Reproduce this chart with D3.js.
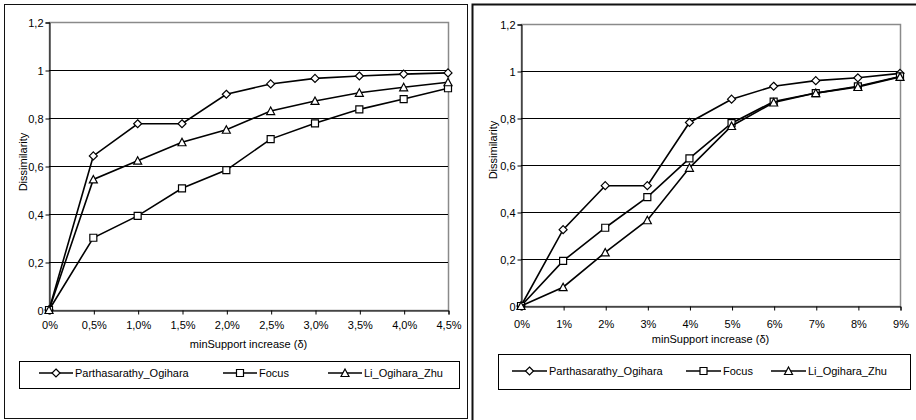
<!DOCTYPE html>
<html>
<head>
<meta charset="utf-8">
<script src="https://cdn.jsdelivr.net/npm/d3@7"></script>
<style>
  body { margin: 0; background: #fff; }
  svg { display: block; font-family: "Liberation Sans", Arial, sans-serif; font-size: 11px; }
</style>
</head>
<body>
<svg id="chart" width="916" height="420"></svg>
<script>
// data
const seriesNames = ["Parthasarathy_Ogihara", "Focus", "Li_Ogihara_Zhu"];
const markerTypes = ["diamond", "square", "triangle"];

const leftCategories = ["0%", "0,5%", "1,0%", "1,5%", "2,0%", "2,5%", "3,0%", "3,5%", "4,0%", "4,5%"];
const leftParthasarathy = [0, 0.642, 0.776, 0.776, 0.899, 0.942, 0.965, 0.975, 0.983, 0.988];
const leftFocus = [0, 0.301, 0.392, 0.507, 0.583, 0.712, 0.778, 0.836, 0.879, 0.924];
const leftLi = [0, 0.544, 0.622, 0.699, 0.751, 0.829, 0.871, 0.905, 0.928, 0.949];

const rightCategories = ["0%", "1%", "2%", "3%", "4%", "5%", "6%", "7%", "8%", "9%"];
const rightParthasarathy = [0, 0.325, 0.512, 0.512, 0.781, 0.880, 0.935, 0.959, 0.971, 0.990];
const rightFocus = [0, 0.192, 0.333, 0.463, 0.628, 0.778, 0.870, 0.906, 0.935, 0.977];
const rightLi = [0, 0.080, 0.228, 0.365, 0.588, 0.766, 0.866, 0.906, 0.932, 0.975];

const yTicks = [0, 0.2, 0.4, 0.6, 0.8, 1, 1.2];
const yTickLabels = ["0", "0,2", "0,4", "0,6", "0,8", "1", "1,2"];
const yTitle = "Dissimilarity";
const xTitle = "minSupport  increase (\u03b4)";

const svg = d3.select("#chart");

function markerPath(type) {
  if (type === "diamond") return "M0,-4L4,0L0,4L-4,0Z";
  if (type === "square") return "M-3.5,-3.5H3.5V3.5H-3.5Z";
  return "M0,-4L4,3.5H-4Z";
}

function drawPanel(cfg) {
  const g = svg.append("g");

  // outer frame
  g.append("rect")
    .attr("x", cfg.frame[0]).attr("y", cfg.frame[1])
    .attr("width", cfg.frame[2]).attr("height", cfg.frame[3])
    .attr("fill", "none").attr("stroke", "#111").attr("stroke-width", cfg.frameWidth || 1);

  const x = d3.scalePoint()
    .domain(cfg.categories)
    .range([cfg.plot.left, cfg.plot.right])
    .padding(0);

  const y = d3.scaleLinear()
    .domain([0, 1.2])
    .range([cfg.plot.bottom, cfg.plot.top]);

  // plot area border
  g.append("rect")
    .attr("x", cfg.plot.left + 0.5).attr("y", y(1.2) + 0.5)
    .attr("width", cfg.plot.right - cfg.plot.left)
    .attr("height", cfg.plot.bottom - cfg.plot.top)
    .attr("fill", "none").attr("stroke", "#8a8a8a").attr("stroke-width", 1.5);

  // gridlines
  g.append("g")
    .selectAll("line")
    .data(yTicks.filter(d => d > 0 && d < 1.2))
    .enter().append("line")
    .attr("x1", cfg.plot.left).attr("x2", cfg.plot.right)
    .attr("y1", d => Math.round(y(d)) + 0.5).attr("y2", d => Math.round(y(d)) + 0.5)
    .attr("stroke", "#000").attr("stroke-width", 1);

  // y axis
  const yAxis = g.append("g")
    .attr("transform", `translate(${cfg.plot.left + 0.5},0.5)`)
    .call(d3.axisLeft(y).tickValues(yTicks)
      .tickFormat((d, i) => yTickLabels[i]).tickSize(4).tickPadding(2));
  yAxis.select(".domain").attr("stroke", "#000");
  yAxis.selectAll("line").attr("stroke", "#000");
  yAxis.selectAll("text").attr("fill", "#000")
    .style("font-size", "11px").style("font-family", "inherit");

  // x axis
  const xAxis = g.append("g")
    .attr("transform", `translate(0.5,${cfg.plot.bottom + 0.5})`)
    .call(d3.axisBottom(x).tickSize(4).tickPadding(cfg.xPad));
  xAxis.select(".domain").attr("stroke", "#000");
  xAxis.selectAll("line").attr("stroke", "#000");
  xAxis.selectAll("text").attr("fill", "#000")
    .style("font-size", "11px").style("font-family", "inherit");

  // axis titles
  g.append("text")
    .attr("x", (cfg.plot.left + cfg.plot.right) / 2)
    .attr("y", cfg.xTitleY)
    .attr("text-anchor", "middle")
    .attr("dy", "0.35em")
    .text(xTitle);

  g.append("text")
    .attr("transform", `translate(${cfg.yTitleX},${cfg.yTitleY}) rotate(-90)`)
    .attr("text-anchor", "middle")
    .attr("dy", "0.35em")
    .text(yTitle);

  // lines + markers
  const line = d3.line()
    .x((d, i) => x(cfg.categories[i]))
    .y(d => y(d));

  cfg.series.forEach((values, s) => {
    g.append("path")
      .datum(values)
      .attr("fill", "none")
      .attr("stroke", "#000")
      .attr("stroke-width", 1.6)
      .attr("d", line);

    g.append("g").selectAll("path")
      .data(values)
      .enter().append("path")
      .attr("transform", (d, i) => `translate(${x(cfg.categories[i])},${y(d)})`)
      .attr("d", markerPath(markerTypes[s]))
      .attr("fill", "#fff")
      .attr("stroke", "#000")
      .attr("stroke-width", 1.2);
  });

  // legend
  const lg = cfg.legend;
  g.append("rect")
    .attr("x", lg.box[0] + 0.5).attr("y", lg.box[1] + 0.5)
    .attr("width", lg.box[2]).attr("height", lg.box[3])
    .attr("fill", "#fff").attr("stroke", "#000");

  seriesNames.forEach((name, s) => {
    const lx = lg.items[s];
    const item = g.append("g");
    item.append("line")
      .attr("x1", lx).attr("x2", lx + lg.lineLen)
      .attr("y1", lg.y).attr("y2", lg.y)
      .attr("stroke", "#000").attr("stroke-width", 1.6);
    item.append("path")
      .attr("transform", `translate(${lx + lg.lineLen / 2},${lg.y})`)
      .attr("d", markerPath(markerTypes[s]))
      .attr("fill", "#fff").attr("stroke", "#000").attr("stroke-width", 1.2);
    item.append("text")
      .attr("x", lx + lg.lineLen + 2)
      .attr("y", lg.y)
      .attr("dy", "0.35em")
      .text(name);
  });
}

// left panel
drawPanel({
  frame: [4.5, 4.5, 463, 414],
  categories: leftCategories,
  series: [leftParthasarathy, leftFocus, leftLi],
  plot: { left: 49, right: 448, top: 22, bottom: 310 },
  xPad: 7,
  xTitleY: 344,
  yTitleX: 23,
  yTitleY: 162,
  legend: { box: [19, 361, 440, 27], items: [39, 223, 328], lineLen: 34, y: 373 }
});

// right panel
drawPanel({
  frame: [472.5, 4.5, 460, 430],
  frameWidth: 2,
  categories: rightCategories,
  series: [rightParthasarathy, rightFocus, rightLi],
  plot: { left: 521, right: 900, top: 24, bottom: 306 },
  xPad: 10,
  xTitleY: 339,
  yTitleX: 493,
  yTitleY: 150,
  legend: { box: [498, 354, 412, 35], items: [512, 686, 771], lineLen: 35, y: 371 }
});
</script>
</body>
</html>
